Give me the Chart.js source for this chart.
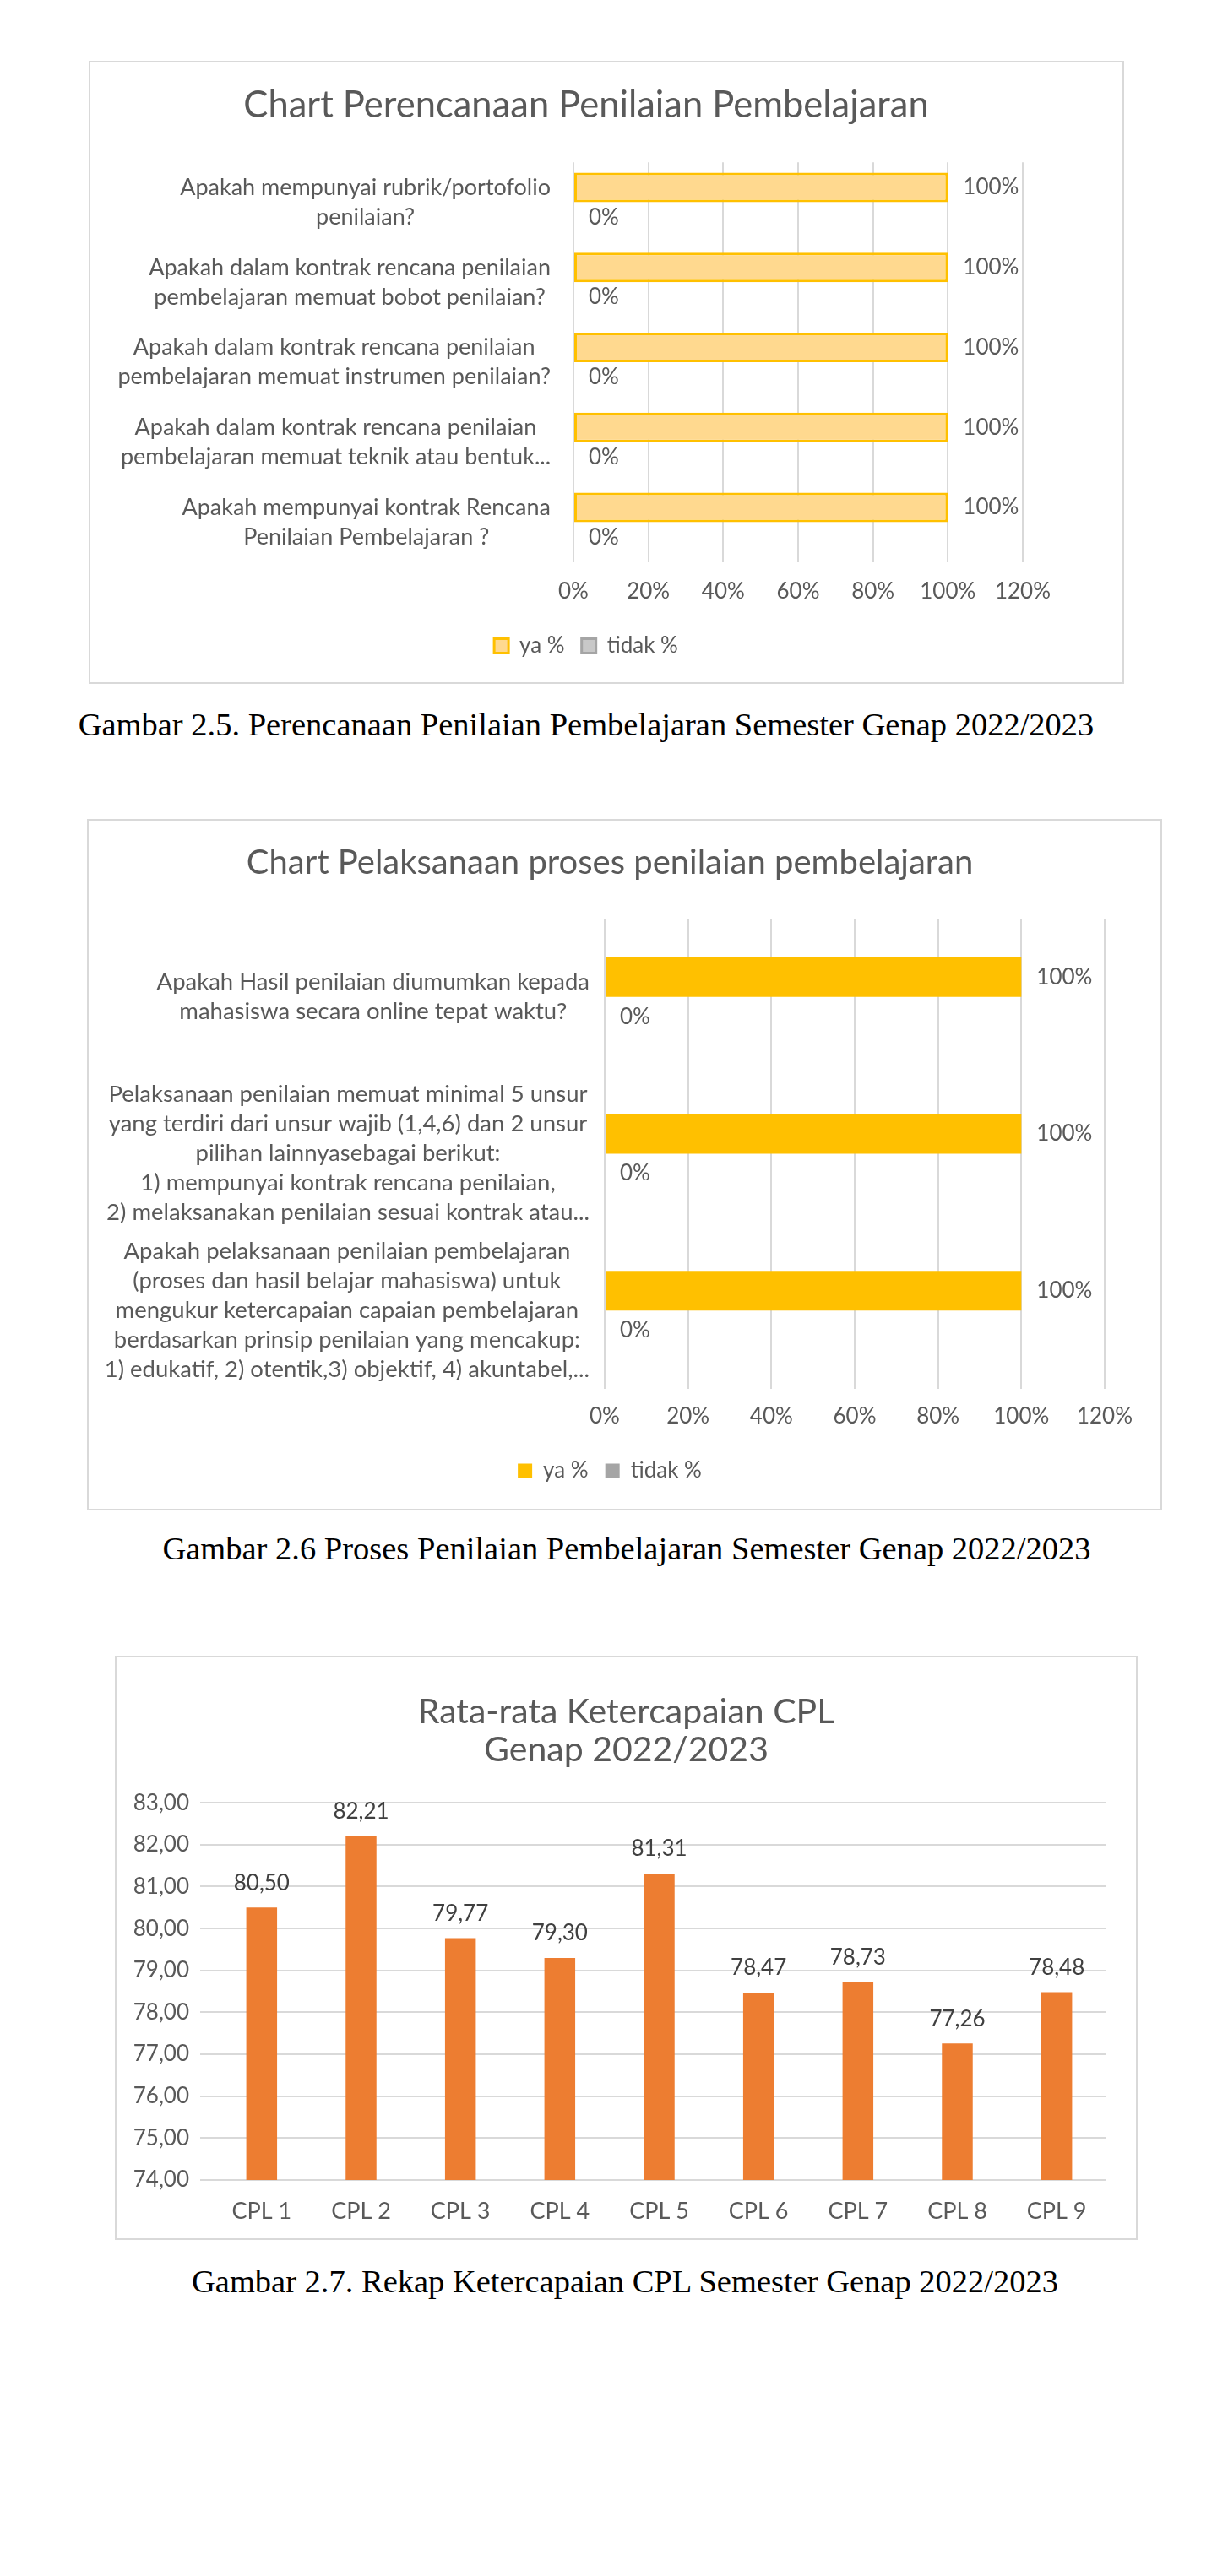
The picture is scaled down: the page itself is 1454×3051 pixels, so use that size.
<!DOCTYPE html>
<html>
<head>
<meta charset="utf-8">
<title>Penilaian Pembelajaran</title>
<script src="https://cdn.jsdelivr.net/npm/chart.js@4.4.0/dist/chart.umd.min.js"></script>
<style>
  body { margin: 0; background: #fff; width: 1454px; height: 3051px; position: relative; }
  .box { position: absolute; border: 2px solid #D9D9D9; box-sizing: border-box; background: #fff; }
  .cap { position: absolute; width: 1400px; height: 44px; line-height: 44px; text-align: center;
         font-family: "Liberation Serif", "Times New Roman", serif; font-size: 38.5px; color: #000; }
</style>
</head>
<body>

<div class="box" style="left:105px; top:72px; width:1226px; height:738px;"><canvas id="chartPerencanaan"></canvas></div>
<div class="cap" style="left:-6px; top:836px;">Gambar 2.5. Perencanaan Penilaian Pembelajaran Semester Genap 2022/2023</div>

<div class="box" style="left:103px; top:970px; width:1273px; height:819px;"><canvas id="chartPelaksanaan"></canvas></div>
<div class="cap" style="left:42px; top:1812px;">Gambar 2.6 Proses Penilaian Pembelajaran Semester Genap 2022/2023</div>

<div class="box" style="left:136px; top:1961px; width:1211px; height:692px;"><canvas id="chartCpl"></canvas></div>
<div class="cap" style="left:40px; top:2680px;">Gambar 2.7. Rekap Ketercapaian CPL Semester Genap 2022/2023</div>

<script>
// data
const perencanaanLabels = [
  ['Apakah mempunyai rubrik/portofolio', 'penilaian?'],
  ['Apakah dalam kontrak rencana penilaian', 'pembelajaran memuat bobot penilaian?'],
  ['Apakah dalam kontrak rencana penilaian', 'pembelajaran memuat instrumen penilaian?'],
  ['Apakah dalam kontrak rencana penilaian', 'pembelajaran memuat teknik atau bentuk...'],
  ['Apakah mempunyai kontrak Rencana', 'Penilaian Pembelajaran ?']
];
const perencanaanYa = [100, 100, 100, 100, 100];
const perencanaanTidak = [0, 0, 0, 0, 0];

const pelaksanaanLabels = [
  ['Apakah Hasil penilaian diumumkan kepada', 'mahasiswa secara online tepat waktu?'],
  ['Pelaksanaan penilaian memuat minimal 5 unsur', 'yang terdiri dari unsur wajib (1,4,6) dan 2 unsur',
   'pilihan lainnyasebagai berikut:', '1) mempunyai kontrak rencana penilaian,',
   '2) melaksanakan penilaian sesuai kontrak atau...'],
  ['Apakah pelaksanaan penilaian pembelajaran', '(proses dan hasil belajar mahasiswa) untuk',
   'mengukur ketercapaian capaian pembelajaran', 'berdasarkan prinsip penilaian yang mencakup:',
   '1) edukatif, 2) otentik,3) objektif, 4) akuntabel,...']
];
const pelaksanaanYa = [100, 100, 100];
const pelaksanaanTidak = [0, 0, 0];

const cplLabels = ['CPL 1', 'CPL 2', 'CPL 3', 'CPL 4', 'CPL 5', 'CPL 6', 'CPL 7', 'CPL 8', 'CPL 9'];
const cplValues = [80.50, 82.21, 79.77, 79.30, 81.31, 78.47, 78.73, 77.26, 78.48];

Chart.defaults.font.family = 'Lato';
Chart.defaults.color = '#595959';

// category labels of the horizontal charts: lines centred, block pushed to the axis
const catLabels = {
  id: 'catLabels',
  afterDraw(chart, args, opts) {
    const ctx = chart.ctx;
    const yScale = chart.scales.y;
    const right = chart.chartArea.left - opts.gap;
    ctx.save();
    ctx.font = opts.size + 'px Lato';
    ctx.fillStyle = opts.color;
    ctx.textAlign = 'center';
    ctx.textBaseline = 'middle';
    chart.data.labels.forEach((lines, i) => {
      const widest = Math.max(...lines.map(l => ctx.measureText(l).width));
      const cx = right - widest / 2;
      const y0 = yScale.getPixelForTick(i) - (lines.length - 1) * opts.lineHeight / 2;
      lines.forEach((line, k) => ctx.fillText(line, cx, y0 + k * opts.lineHeight));
    });
    ctx.restore();
  }
};

// value labels next to / above the bars
const valueLabels = {
  id: 'valueLabels',
  afterDatasetsDraw(chart, args, opts) {
    const ctx = chart.ctx;
    ctx.save();
    ctx.font = opts.size + 'px Lato';
    ctx.fillStyle = opts.color;
    ctx.textBaseline = 'middle';
    chart.data.datasets.forEach((ds, i) => {
      chart.getDatasetMeta(i).data.forEach((bar, j) => {
        const v = ds.data[j];
        if (opts.vertical) {
          ctx.textAlign = 'center';
          ctx.fillText(v.toFixed(2).replace('.', ','), bar.x, bar.y - opts.offset);
        } else {
          ctx.textAlign = 'left';
          ctx.fillText(v + '%', bar.x + opts.offset, bar.y);
        }
      });
    });
    ctx.restore();
  }
};

const gridColor = '#D9D9D9';

new Chart(document.getElementById('chartPerencanaan'), {
  type: 'bar',
  data: {
    labels: perencanaanLabels,
    datasets: [
      { label: 'ya %', data: perencanaanYa, backgroundColor: '#FFD98F', borderColor: '#FFC000',
        borderWidth: 3, borderSkipped: false, categoryPercentage: 0.74, barPercentage: 1 },
      { label: 'tidak %', data: perencanaanTidak, backgroundColor: '#C8C8C8', borderColor: '#A5A5A5',
        borderWidth: 3, borderSkipped: false, categoryPercentage: 0.74, barPercentage: 1 }
    ]
  },
  options: {
    indexAxis: 'y',
    responsive: true,
    maintainAspectRatio: false,
    animation: false,
    layout: { padding: { left: 70, right: 118, top: 0, bottom: 20 } },
    scales: {
      x: {
        min: 0, max: 120,
        ticks: { stepSize: 20, padding: 19, font: { size: 26 }, callback: v => v + '%' },
        grid: { color: gridColor, lineWidth: 2, drawTicks: false },
        border: { display: false },
        afterFit: s => { s.height = 66; }
      },
      y: {
        ticks: { display: false },
        grid: { display: false },
        border: { display: false },
        afterFit: s => { s.width = 502; }
      }
    },
    plugins: {
      title: { display: true, text: 'Chart Perencanaan Penilaian Pembelajaran', color: '#595959',
               font: { size: 43.5, weight: 'normal' }, padding: { top: 25, bottom: 41 } },
      legend: { position: 'bottom',
                labels: { boxWidth: 17, boxHeight: 17, padding: 20, color: '#595959', font: { size: 26 } } },
      tooltip: { enabled: false },
      catLabels: { gap: 27, lineHeight: 35, size: 27, color: '#595959' },
      valueLabels: { offset: 18, size: 26, color: '#595959' }
    }
  },
  plugins: [catLabels, valueLabels]
});

new Chart(document.getElementById('chartPelaksanaan'), {
  type: 'bar',
  data: {
    labels: pelaksanaanLabels,
    datasets: [
      { label: 'ya %', data: pelaksanaanYa, backgroundColor: '#FFC000',
        categoryPercentage: 0.505, barPercentage: 1 },
      { label: 'tidak %', data: pelaksanaanTidak, backgroundColor: '#A5A5A5',
        categoryPercentage: 0.505, barPercentage: 1 }
    ]
  },
  options: {
    indexAxis: 'y',
    responsive: true,
    maintainAspectRatio: false,
    animation: false,
    layout: { padding: { left: 31, right: 66, top: 0, bottom: 22 } },
    scales: {
      x: {
        min: 0, max: 120,
        ticks: { stepSize: 20, padding: 17, font: { size: 26 }, callback: v => v + '%' },
        grid: { color: gridColor, lineWidth: 2, drawTicks: false },
        border: { display: false },
        afterFit: s => { s.height = 64; }
      },
      y: {
        ticks: { display: false },
        grid: { display: false },
        border: { display: false },
        afterFit: s => { s.width = 580; }
      }
    },
    plugins: {
      title: { display: true, text: 'Chart Pelaksanaan proses penilaian pembelajaran', color: '#595959',
               font: { size: 40, weight: 'normal' }, padding: { top: 26, bottom: 42 } },
      legend: { position: 'bottom',
                labels: { boxWidth: 17, boxHeight: 17, padding: 20, color: '#595959', font: { size: 26 } } },
      tooltip: { enabled: false },
      catLabels: { gap: 18, lineHeight: 35, size: 27.5, color: '#595959' },
      valueLabels: { offset: 18, size: 26, color: '#595959' }
    }
  },
  plugins: [catLabels, valueLabels]
});

new Chart(document.getElementById('chartCpl'), {
  type: 'bar',
  data: {
    labels: cplLabels,
    datasets: [
      { label: 'Rata-rata', data: cplValues, backgroundColor: '#ED7D31',
        categoryPercentage: 1, barPercentage: 0.31 }
    ]
  },
  options: {
    responsive: true,
    maintainAspectRatio: false,
    animation: false,
    layout: { padding: { left: 0, right: 0, top: 0, bottom: 13 } },
    scales: {
      y: {
        min: 74, max: 83,
        ticks: { stepSize: 1, padding: 13, font: { size: 26 }, callback: v => v.toFixed(2).replace('.', ',') },
        grid: { color: gridColor, lineWidth: 2, drawTicks: true, tickLength: 14, tickColor: gridColor },
        border: { display: false },
        afterFit: s => { s.width = 113; }
      },
      // empty right-hand axis, only keeps space at the right of the plot
      yRight: {
        position: 'right',
        grid: { display: false },
        ticks: { display: false },
        border: { display: false },
        afterFit: s => { s.width = 35; }
      },
      x: {
        ticks: { padding: 13, font: { size: 27 } },
        grid: { display: false },
        border: { display: false },
        afterFit: s => { s.height = 56; }
      }
    },
    plugins: {
      title: { display: true, text: ['Rata-rata Ketercapaian CPL', 'Genap 2022/2023'], color: '#595959',
               font: { size: 41, weight: 'normal', lineHeight: 1.1 }, padding: { top: 42, bottom: 40 } },
      legend: { display: false },
      tooltip: { enabled: false },
      valueLabels: { vertical: true, offset: 29, size: 26, color: '#404040' }
    }
  },
  plugins: [valueLabels]
});
</script>
</body>
</html>
